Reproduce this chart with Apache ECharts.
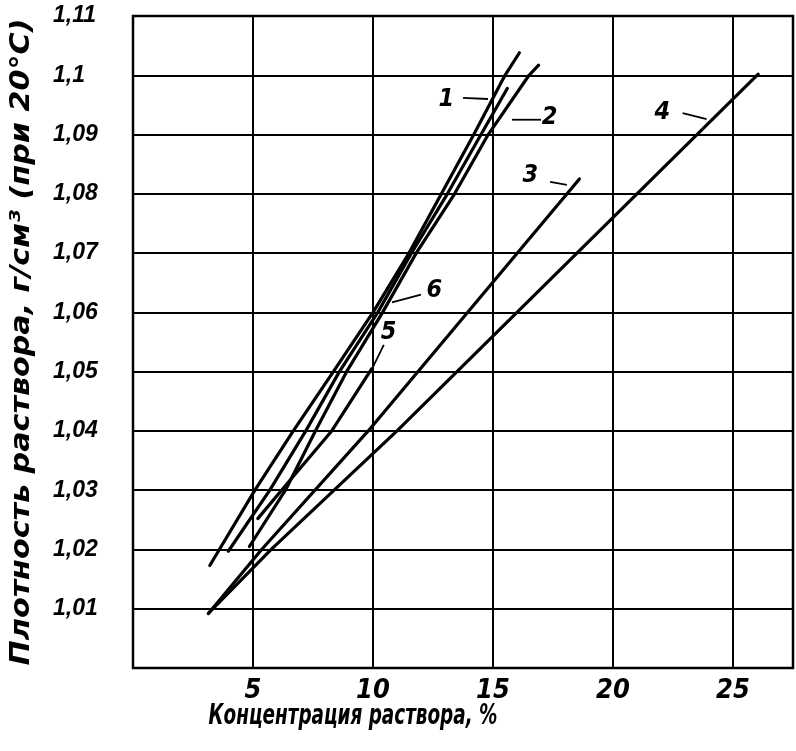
<!DOCTYPE html>
<html>
<head>
<meta charset="utf-8">
<script src="https://cdn.jsdelivr.net/npm/echarts@6/dist/echarts.min.js"></script>
<style>
html,body{margin:0;padding:0;background:#fff;}
#chart{width:796px;height:751px;}
</style>
</head>
<body>
<div id="chart"></div>
<script>
// ---- data (concentration %, density g/cm3) ----
const line1 = [[3.2,1.0173],[5.08,1.03],[6.68,1.04],[8.35,1.05],[10.0,1.06],[11.5,1.07],[12.85,1.08],[14.2,1.09],[15.5,1.10],[16.1,1.1038]];
const line2 = [[4.85,1.0205],[6.35,1.03],[7.6,1.04],[8.9,1.05],[10.4,1.06],[11.8,1.07],[13.4,1.08],[14.8,1.09],[16.5,1.10],[16.9,1.1017]];
const line3 = [[3.14,1.0092],[5.36,1.02],[9.8,1.04],[18.6,1.0825]];
const line4 = [[3.14,1.0092],[5.76,1.02],[11.0,1.04],[26.05,1.1002]];
const line5 = [[5.2,1.0252],[6.4,1.031],[8.28,1.04],[9.95,1.0505]];
const line6 = [[3.97,1.0197],[5.7,1.03],[7.2,1.04],[8.6,1.05],[10.2,1.06],[11.6,1.07],[13.1,1.08],[14.5,1.09],[15.6,1.0978]];

const curveNames = ['1','2','3','4','5','6'];
const labelPos = [[13.08,1.0958],[17.38,1.0928],[16.58,1.0830],[22.08,1.0936],[10.67,1.0565],[12.58,1.0636]];
const leaderStart = [[13.75,1.0962],[15.79,1.0925],[17.38,1.0820],[22.9,1.0936],[10.45,1.0545],[12.0,1.0630]];
const leaderEnd   = [[14.79,1.0960],[17.0,1.0925],[18.08,1.0815],[23.9,1.0926],[10.0,1.0508],[10.79,1.0617]];

const xTickLabels = ['', '5', '10', '15', '20', '25'];
const yTickLabels = ['', '1,01','1,02','1,03','1,04','1,05','1,06','1,07','1,08','1,09','1,1','1,11'];

const xTitle = 'Концентрация раствора, %';
const yTitle = 'Плотность раствора, г/см³ (при 20°C)';

const FONT = "'DejaVu Sans Condensed','Liberation Sans',sans-serif";
const FONT2 = "'Liberation Sans','DejaVu Sans',sans-serif";
const FONT3 = "'DejaVu Sans','Liberation Sans',sans-serif";

const chart = echarts.init(document.getElementById('chart'), null, {renderer:'canvas'});

const curves = [line1, line2, line3, line4, line5, line6];
const series = [];
curves.forEach((d, i) => {
  series.push({
    name: 'curve' + curveNames[i], type: 'line', data: d, symbol: 'none', smooth: false,
    lineStyle: {color: '#000', width: 3.2, cap: 'round'}, silent: true, z: 5
  });
});
curveNames.forEach((n, i) => {
  series.push({
    name: 'leader' + n, type: 'line', data: [leaderStart[i], leaderEnd[i]], symbol: 'none',
    lineStyle: {color: '#000', width: 1.8}, silent: true, z: 5
  });
});
series.push({
  name: 'labels', type: 'scatter', symbolSize: 1, silent: true, z: 6,
  itemStyle: {color: 'rgba(0,0,0,0)', opacity: 1},
  data: labelPos.map((p, i) => ({value: p, name: curveNames[i]})),
  label: {show: true, position: [0, 0], align: 'center', verticalAlign: 'middle', formatter: p => p.name,
    fontFamily: FONT, fontStyle: 'italic', fontWeight: 'bold', fontSize: 25, color: '#000', opacity: 1, textBorderWidth: 0}
});

chart.setOption({
  animation: false,
  backgroundColor: '#fff',
  grid: {left: 133, right: 3, top: 16, bottom: 83, containLabel: false, outerBoundsMode: 'none',
    show: true, borderColor: '#000', borderWidth: 2.5, backgroundColor: 'transparent'},
  xAxis: {
    type: 'value', min: 0, max: 27.5, interval: 5,
    axisLine: {show: false}, axisTick: {show: false},
    splitLine: {show: true, lineStyle: {color: '#000', width: 2}},
    axisLabel: {margin: 9, color: '#000', fontFamily: FONT, fontStyle: 'italic', fontWeight: 'bold', fontSize: 27,
      formatter: v => { const k = Math.round(v / 5); return (Math.abs(v - k*5) < 1e-6 && xTickLabels[k] !== undefined) ? xTickLabels[k] : ''; }}
  },
  yAxis: {
    type: 'value', min: 1.0, max: 1.11, interval: 0.01,
    axisLine: {show: false}, axisTick: {show: false},
    splitLine: {show: true, lineStyle: {color: '#000', width: 2}},
    axisLabel: {margin: 80, align: 'left', color: '#000', fontFamily: FONT2, fontStyle: 'italic', fontWeight: 'bold', fontSize: 23,
      formatter: v => { const k = Math.round((v - 1) * 100); return yTickLabels[k] || ''; }}
  },
  graphic: [{
    type: 'text', x: 353, y: 717, scaleX: 0.73, silent: true,
    style: {text: xTitle, fill: '#000', font: "italic bold 28px " + FONT, align: 'center', verticalAlign: 'middle'}
  }, {
    type: 'text', x: 22, y: 342, rotation: Math.PI / 2, scaleX: 1.16, silent: true,
    style: {text: yTitle, fill: '#000', font: "oblique bold 26px " + FONT3, align: 'center', verticalAlign: 'middle'}
  }],
  series: series
});
</script>
</body>
</html>
